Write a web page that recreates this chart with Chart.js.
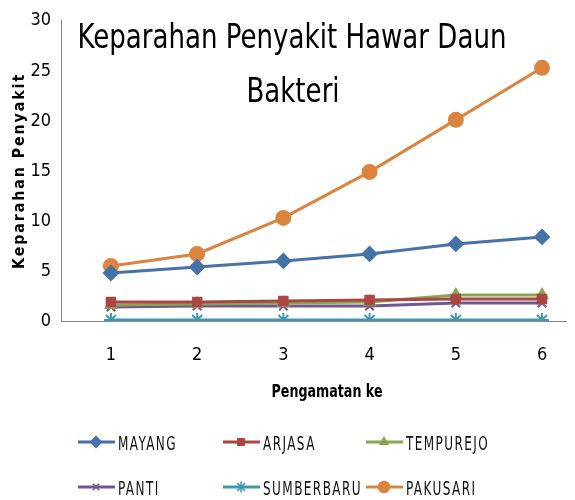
<!DOCTYPE html>
<html lang="id">
<head>
  <meta charset="UTF-8" />
  <title>Keparahan Penyakit Hawar Daun Bakteri</title>
  <script src="https://cdn.jsdelivr.net/npm/chart.js"></script>
  <style>
    html, body { margin: 0; padding: 0; background: #fff; }
    #wrap { width: 575px; height: 500px; }
  </style>
</head>
<body>
  <div id="wrap"><canvas id="chart" width="575" height="500"></canvas></div>

  <script>
    const pengamatan = [1, 2, 3, 4, 5, 6];
    const yTicks = [0, 5, 10, 15, 20, 25, 30];

    const mayang     = [4.8, 5.4, 6.0, 6.7, 7.7, 8.4];
    const arjasa     = [1.9, 1.9, 2.0, 2.1, 2.2, 2.2];
    const tempurejo  = [1.6, 1.7, 1.8, 1.9, 2.6, 2.6];
    const panti      = [1.4, 1.5, 1.5, 1.5, 1.8, 1.8];
    const sumberbaru = [0.1, 0.1, 0.1, 0.1, 0.1, 0.1];
    const pakusari   = [5.5, 6.7, 10.3, 14.9, 20.1, 25.3];

    const titleLines = ["Keparahan Penyakit Hawar Daun", "Bakteri"];
    const xTitle = "Pengamatan ke";
    const yTitle = "Keparahan Penyakit";

    const series = [
      { label: "MAYANG", data: mayang, color: "#4572A7", style: "rectRot", r: 7 },
      { label: "ARJASA", data: arjasa, color: "#AA4643", style: "rect", r: 6 },
      { label: "TEMPUREJO", data: tempurejo, color: "#89A54E", style: "triangle", r: 6 },
      { label: "PANTI", data: panti, color: "#71588F", style: "crossRot", r: 6 },
      { label: "SUMBERBARU", data: sumberbaru, color: "#4198AF", style: "star", r: 7 },
      { label: "PAKUSARI", data: pakusari, color: "#DB843D", style: "circle", r: 7 }
    ];

    const condensed = "'DejaVu Sans Condensed', 'Liberation Sans Narrow', 'DejaVu Sans', sans-serif";

    // draw text scaled horizontally by sx (original uses a narrow, tall font)
    function scaledText(ctx, text, x, y, sx, align) {
      const w = ctx.measureText(text).width * sx;
      const left = align === "center" ? x - w / 2 : x;
      ctx.save();
      ctx.translate(left, y);
      ctx.scale(sx, 1);
      ctx.textAlign = "left";
      ctx.fillText(text, 0, 0);
      ctx.restore();
    }

    const textPlugin = {
      id: "texts",
      afterDraw(chart) {
        const ctx = chart.ctx;
        const area = chart.chartArea;
        ctx.save();
        ctx.fillStyle = "#000";
        ctx.textBaseline = "alphabetic";

        // chart title, inside the plot
        ctx.font = "34px " + condensed;
        let sx = 429 / ctx.measureText(titleLines[0]).width;
        scaledText(ctx, titleLines[0], 292, 48, sx, "center");
        scaledText(ctx, titleLines[1], 293, 102, sx, "center");

        // x axis title
        ctx.font = "bold 18px " + condensed;
        sx = 111 / ctx.measureText(xTitle).width;
        scaledText(ctx, xTitle, 327, 397, sx, "center");

        // y axis title, rotated
        ctx.save();
        ctx.translate(24, (area.top + area.bottom) / 2);
        ctx.rotate(-Math.PI / 2);
        ctx.font = "bold 16px " + condensed;
        ctx.letterSpacing = "2px";
        sx = 196 / ctx.measureText(yTitle).width;
        scaledText(ctx, yTitle, 0, 0, sx, "center");
        ctx.restore();

        ctx.restore();
      }
    };

    // legend in two rows of three, line + marker
    const legendPlugin = {
      id: "lineLegend",
      afterDraw(chart) {
        const ctx = chart.ctx;
        const cols = [78, 223, 366];
        const rows = [442, 487];
        ctx.save();
        ctx.font = "19px " + condensed;
        ctx.letterSpacing = "2px";
        const sx = 99 / ctx.measureText("SUMBERBARU").width;
        ctx.restore();
        chart.data.datasets.forEach((ds, i) => {
          const x = cols[i % 3];
          const y = rows[Math.floor(i / 3)];
          ctx.save();
          ctx.strokeStyle = ds.borderColor;
          ctx.fillStyle = ds.borderColor;
          ctx.lineWidth = 3;
          ctx.beginPath();
          ctx.moveTo(x, y);
          ctx.lineTo(x + 37, y);
          ctx.stroke();
          ctx.lineWidth = 1.5;
          Chart.helpers.drawPoint(ctx, {
            pointStyle: ds.pointStyle,
            radius: ds.pointRadius - 1.5,
            borderWidth: 1.5,
            rotation: 0
          }, x + 18, y);
          ctx.fillStyle = "#111";
          ctx.font = "19px " + condensed;
          ctx.letterSpacing = "2px";
          ctx.textBaseline = "alphabetic";
          scaledText(ctx, ds.label, x + 40, y + 8, sx, "left");
          ctx.restore();
        });
      }
    };

    new Chart(document.getElementById("chart"), {
      type: "line",
      data: {
        datasets: series.map(s => ({
          label: s.label,
          data: s.data.map((v, i) => ({ x: pengamatan[i], y: v })),
          borderColor: s.color,
          backgroundColor: s.color,
          borderWidth: 3,
          pointStyle: s.style,
          pointRadius: s.r,
          pointBorderWidth: 2,
          pointBackgroundColor: s.color,
          pointBorderColor: s.color,
          tension: 0
        }))
      },
      options: {
        responsive: false,
        animation: false,
        layout: { padding: { top: 17, right: 0, bottom: 101, left: 0 } },
        plugins: {
          legend: { display: false },
          tooltip: { enabled: false }
        },
        scales: {
          x: {
            type: "linear",
            min: 0.421,
            max: 6.278,
            afterBuildTicks: scale => { scale.ticks = pengamatan.map(v => ({ value: v })); },
            afterFit: scale => { scale.height = 78; },
            grid: { display: false, drawTicks: false },
            border: { display: true, color: "#868686", width: 1 },
            ticks: {
              padding: 24,
              color: "#000",
              font: { family: condensed, size: 18 },
              callback: v => String(v)
            }
          },
          y: {
            min: 0,
            max: 30,
            afterBuildTicks: scale => { scale.ticks = yTicks.map(v => ({ value: v })); },
            afterFit: scale => { scale.width = 61; },
            grid: { display: false, drawTicks: false },
            border: { display: true, color: "#868686", width: 1 },
            ticks: {
              padding: 10,
              color: "#000",
              font: { family: condensed, size: 18 }
            }
          }
        }
      },
      plugins: [textPlugin, legendPlugin]
    });
  </script>
</body>
</html>
